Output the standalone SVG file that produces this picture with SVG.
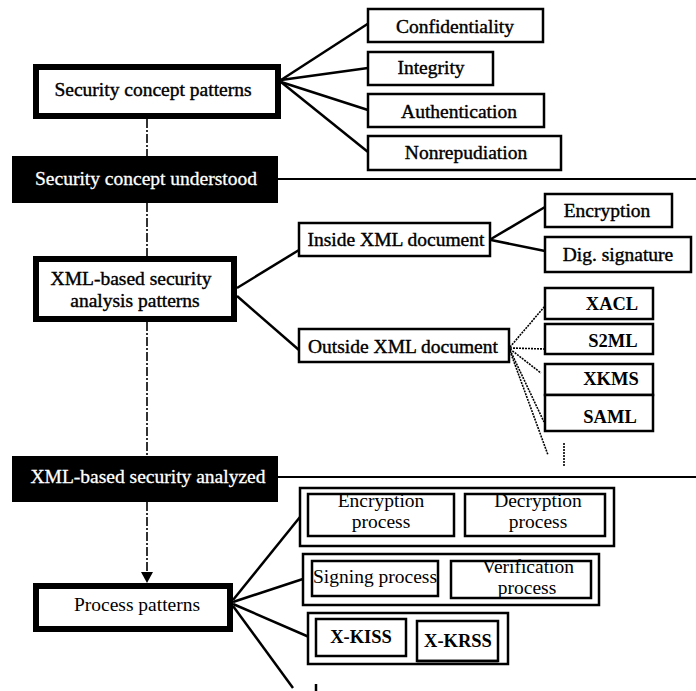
<svg xmlns="http://www.w3.org/2000/svg" width="696" height="691" viewBox="0 0 696 691" font-family="Liberation Serif, Times New Roman, DejaVu Serif, serif">
  <style>
    text { font-family: 'Liberation Serif', 'Times New Roman', Times, 'DejaVu Serif', serif; font-size: 19.5px; fill: #000; text-anchor: middle; }
    .hv { stroke: #000; stroke-width: 0.4; }
    .inv { fill: #fff; stroke: #fff; stroke-width: 0.3; }
    .bold { font-weight: bold; font-size: 18.5px; }
    .thick { fill: #fff; stroke: #000; stroke-width: 6; }
    .box { fill: #fff; stroke: #000; stroke-width: 2.5; }
    .bar { fill: #000; }
    .ln { stroke: #000; stroke-width: 2.5; fill: none; }
    .rule { stroke: #000; stroke-width: 2; fill: none; }
    .flow { stroke: #000; stroke-width: 1.6; fill: none; stroke-dasharray: 9 2 2 2; }
    .dot { stroke: #000; stroke-width: 1.6; fill: none; stroke-dasharray: 2 1; }
  </style>

  <!-- connectors -->
  <g id="connectors">
    <!-- main flow (dash-dot) -->
    <line class="flow" x1="147" y1="119" x2="147" y2="156"/>
    <line class="flow" x1="147" y1="203" x2="147" y2="256"/>
    <line class="flow" x1="147" y1="322" x2="147" y2="456"/>
    <line class="flow" x1="147" y1="502" x2="147" y2="573"/>
    <polygon points="141,572 153,572 147,583" fill="#000"/>
    <!-- stage rules -->
    <line class="rule" x1="278" y1="179" x2="696" y2="179"/>
    <line class="rule" x1="278" y1="477" x2="696" y2="477"/>
    <!-- security concepts -->
    <line class="ln" x1="281" y1="80" x2="369" y2="23"/>
    <line class="ln" x1="281" y1="80" x2="368" y2="68"/>
    <line class="ln" x1="281" y1="82" x2="368" y2="110"/>
    <line class="ln" x1="281" y1="82" x2="368" y2="152"/>
    <!-- XML-based analysis -->
    <line class="ln" x1="237" y1="288" x2="299" y2="250"/>
    <line class="ln" x1="237" y1="296" x2="299" y2="350"/>
    <line class="ln" x1="491" y1="239" x2="545" y2="207"/>
    <line class="ln" x1="491" y1="240" x2="545" y2="251"/>
    <!-- outside document specs (dotted) -->
    <line class="dot" x1="510" y1="347" x2="545" y2="306"/>
    <line class="dot" x1="510" y1="348" x2="545" y2="349"/>
    <line class="dot" x1="510" y1="349" x2="541" y2="373"/>
    <line class="dot" x1="510" y1="350" x2="544" y2="422"/>
    <line class="dot" x1="510" y1="351" x2="548" y2="455"/>
    <line class="dot" x1="564" y1="443" x2="564" y2="467"/>
    <!-- process patterns -->
    <line class="ln" x1="233" y1="600" x2="300" y2="517"/>
    <line class="ln" x1="233" y1="602" x2="312" y2="576"/>
    <line class="ln" x1="233" y1="604" x2="316" y2="640"/>
    <line class="ln" x1="233" y1="606" x2="293" y2="688"/>
    <line class="ln" x1="316" y1="684" x2="316" y2="691"/>
  </g>

  <!-- security concept patterns -->
  <g id="security-concept-patterns">
    <rect class="thick" x="36" y="67" width="242" height="49"/>
    <text class="hv" x="153" y="96">Security concept patterns</text>
  </g>
  <g id="confidentiality">
    <rect class="box" x="368" y="9" width="175" height="33"/>
    <text class="hv" x="455" y="33">Confidentiality</text>
  </g>
  <g id="integrity">
    <rect class="box" x="368" y="52" width="125" height="33"/>
    <text class="hv" x="431" y="74">Integrity</text>
  </g>
  <g id="authentication">
    <rect class="box" x="368" y="94" width="176" height="33"/>
    <text class="hv" x="459" y="118">Authentication</text>
  </g>
  <g id="nonrepudiation">
    <rect class="box" x="368" y="136" width="193" height="34"/>
    <text class="hv" x="466" y="159">Nonrepudiation</text>
  </g>

  <!-- stage: concept understood -->
  <g id="security-concept-understood">
    <rect class="bar" x="12" y="156" width="266" height="47"/>
    <text class="inv" x="146" y="185">Security concept understood</text>
  </g>

  <!-- XML-based security analysis patterns -->
  <g id="xml-analysis-patterns">
    <rect class="thick" x="36" y="259" width="198" height="60"/>
    <text class="hv" x="131" y="285">XML-based security</text>
    <text class="hv" x="135" y="307">analysis patterns</text>
  </g>
  <g id="inside-xml">
    <rect class="box" x="299" y="223" width="191" height="33"/>
    <text class="hv" x="396" y="246">Inside XML document</text>
  </g>
  <g id="outside-xml">
    <rect class="box" x="299" y="329" width="210" height="33"/>
    <text class="hv" x="403" y="353">Outside XML document</text>
  </g>
  <g id="encryption">
    <rect class="box" x="545" y="194" width="127" height="33"/>
    <text class="hv" x="607" y="217">Encryption</text>
  </g>
  <g id="dig-signature">
    <rect class="box" x="545" y="237" width="146" height="35"/>
    <text class="hv" x="618" y="261">Dig. signature</text>
  </g>
  <g id="xacl">
    <rect class="box" x="545" y="288" width="108" height="31"/>
    <text class="bold" x="612" y="310">XACL</text>
  </g>
  <g id="s2ml">
    <rect class="box" x="545" y="324" width="108" height="30"/>
    <text class="bold" x="613" y="347">S2ML</text>
  </g>
  <g id="xkms">
    <rect class="box" x="545" y="364" width="108" height="31"/>
    <text class="bold" x="611" y="385">XKMS</text>
  </g>
  <g id="saml">
    <rect class="box" x="545" y="395" width="108" height="36"/>
    <text class="bold" x="610" y="423">SAML</text>
  </g>

  <!-- stage: XML-based security analyzed -->
  <g id="xml-security-analyzed">
    <rect class="bar" x="12" y="456" width="266" height="46"/>
    <text class="inv" x="148" y="483">XML-based security analyzed</text>
  </g>

  <!-- process patterns -->
  <g id="process-patterns">
    <rect class="thick" x="36" y="586" width="194" height="43"/>
    <text x="137" y="611">Process patterns</text>
  </g>
  <g id="crypt-processes">
    <rect class="box" x="300" y="488" width="314" height="58"/>
    <rect class="box" x="308" y="494" width="146" height="42"/>
    <rect class="box" x="465" y="494" width="140" height="42"/>
    <text x="381" y="507">Encryption</text>
    <text x="381" y="528">process</text>
    <text x="538" y="507">Decryption</text>
    <text x="538" y="528">process</text>
  </g>
  <g id="signature-processes">
    <rect class="box" x="303" y="554" width="296" height="51"/>
    <rect class="box" x="312" y="561" width="126" height="35"/>
    <rect class="box" x="451" y="561" width="140" height="37"/>
    <text x="375" y="583">Signing process</text>
    <text x="528" y="573">Verification</text>
    <text x="527" y="594">process</text>
  </g>
  <g id="key-processes">
    <rect class="box" x="308" y="613" width="200" height="51"/>
    <rect class="box" x="316" y="619" width="90" height="37"/>
    <rect class="box" x="417" y="621" width="81" height="40"/>
    <line class="ln" x1="417" y1="661" x2="498" y2="661" stroke-width="4"/>
    <text class="bold" x="361" y="643">X-KISS</text>
    <text class="bold" x="458" y="647">X-KRSS</text>
  </g>
</svg>
